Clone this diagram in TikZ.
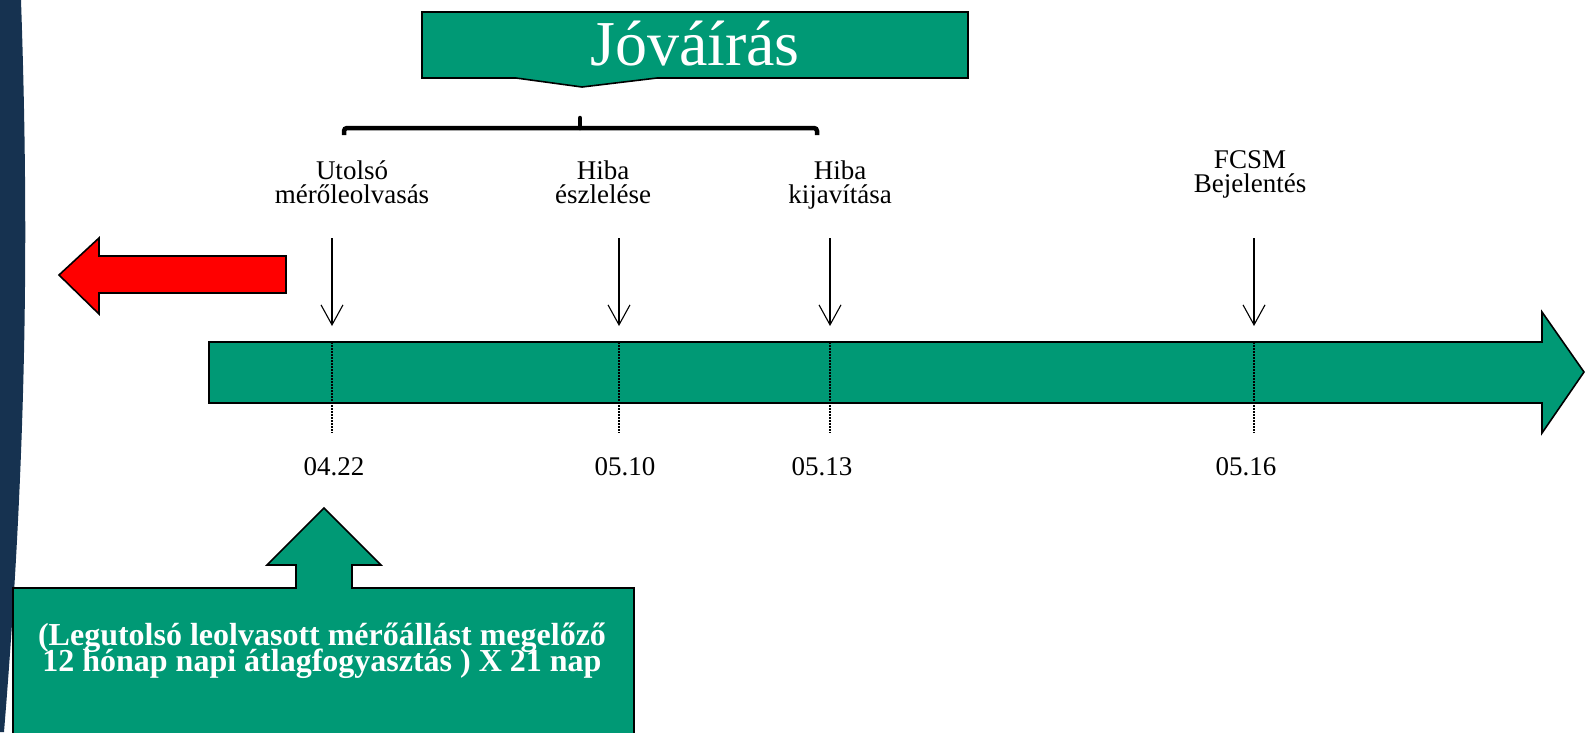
\documentclass[tikz,border=0pt]{standalone}
\usepackage{fontspec}
\setmainfont{Liberation Serif}
\usepackage{xcolor}
\definecolor{tealgreen}{RGB}{0,153,117}
\definecolor{navyband}{RGB}{22,50,80}
\definecolor{arrowred}{RGB}{255,0,0}
\usetikzlibrary{arrows.meta,positioning}

\begin{document}
\begin{tikzpicture}[x=1pt,y=-1pt,
    greenbox/.style={fill=tealgreen,draw=black,line width=1.6pt},
    eventtext/.style={font=\fontsize{27}{24}\selectfont,align=center,inner sep=0pt,anchor=north},
    datetext/.style={font=\fontsize{27}{27}\selectfont,inner sep=0pt},
    downarrow/.style={line width=1.1pt,-{Straight Barb[length=20pt,width=22pt]}},
    marker/.style={line width=1.3pt,dash pattern=on 1.5pt off 1.5pt}]
    \useasboundingbox (0,0) rectangle (1586,732);
    % Parameters
    \def\ytop{238}   % start of the event arrows
    \def\ytip{326}   % end of the event arrows
    \def\ybar{342}   % top of the time bar
    \def\ymark{433}  % end of the dotted markers
    % Side band
    \fill[navyband] (0,0) -- (21,0) .. controls (29,230) and (27,450) .. (4,732) -- (0,732) -- cycle;
    % Credit callout
    \filldraw[greenbox] (422,12) -- (968,12) -- (968,78) -- (657,78) -- (582,87) -- (516,78) -- (422,78) -- cycle;
    \node[text=white,font=\fontsize{64}{64}\selectfont,inner sep=0pt] (credit) at (695,44) {Jóváírás};
    % Brace
    \draw[line width=4.5pt,rounded corners=3pt] (344,135) -- (344,128) -- (817,128) -- (817,135);
    \draw[line width=4.5pt,line cap=round] (580,128) -- (580,118);
    % Event labels
    \node[eventtext] (lbl1) at (352,161) {Utolsó\\mérőleolvasás};
    \node[eventtext] (lbl2) at (603,161) {Hiba\\észlelése};
    \node[eventtext] (lbl3) at (840,161) {Hiba\\kijavítása};
    \node[eventtext] (lbl4) at (1250,150) {FCSM\\Bejelentés};
    % Event arrows
    \coordinate (a1) at (332,\ytop);  \coordinate (b1) at (332,\ytip);
    \coordinate (a2) at (619,\ytop);  \coordinate (b2) at (619,\ytip);
    \coordinate (a3) at (830,\ytop);  \coordinate (b3) at (830,\ytip);
    \coordinate (a4) at (1254,\ytop); \coordinate (b4) at (1254,\ytip);
    \draw[downarrow] (a1) -- (b1);
    \draw[downarrow] (a2) -- (b2);
    \draw[downarrow] (a3) -- (b3);
    \draw[downarrow] (a4) -- (b4);
    % Time bar
    \filldraw[greenbox] (209,\ybar) -- (1542,\ybar) -- (1542,312) -- (1584,372) -- (1542,433) -- (1542,403) -- (209,403) -- cycle;
    % Dotted markers
    \coordinate (m1) at (332,\ybar);  \coordinate (n1) at (332,\ymark);
    \coordinate (m2) at (619,\ybar);  \coordinate (n2) at (619,\ymark);
    \coordinate (m3) at (830,\ybar);  \coordinate (n3) at (830,\ymark);
    \coordinate (m4) at (1254,\ybar); \coordinate (n4) at (1254,\ymark);
    \draw[marker] (m1) -- (n1);
    \draw[marker] (m2) -- (n2);
    \draw[marker] (m3) -- (n3);
    \draw[marker] (m4) -- (n4);
    % Dates
    \node[datetext] (d1) at (334,467) {04.22};
    \node[datetext] (d2) at (625,467) {05.10};
    \node[datetext] (d3) at (822,467) {05.13};
    \node[datetext] (d4) at (1246,467) {05.16};
    % Backward arrow
    \filldraw[fill=arrowred,draw=black,line width=1.6pt] (286,256) -- (99,256) -- (99,238) -- (59,275) -- (99,314) -- (99,293) -- (286,293) -- cycle;
    % Estimate callout
    \filldraw[greenbox] (13,745) -- (13,588) -- (296,588) -- (296,565) -- (267,565) -- (324,508) -- (381,565) -- (352,565) -- (352,588) -- (634,588) -- (634,745) -- cycle;
    \node[text=white,font=\bfseries\fontsize{32}{21}\selectfont,align=center,inner sep=0pt] (estimate) at (322,651)
        {(Legutolsó leolvasott mérőállást megelőző\\[-5pt]12 hónap napi átlagfogyasztás ) X 21 nap};
\end{tikzpicture}
\end{document}
